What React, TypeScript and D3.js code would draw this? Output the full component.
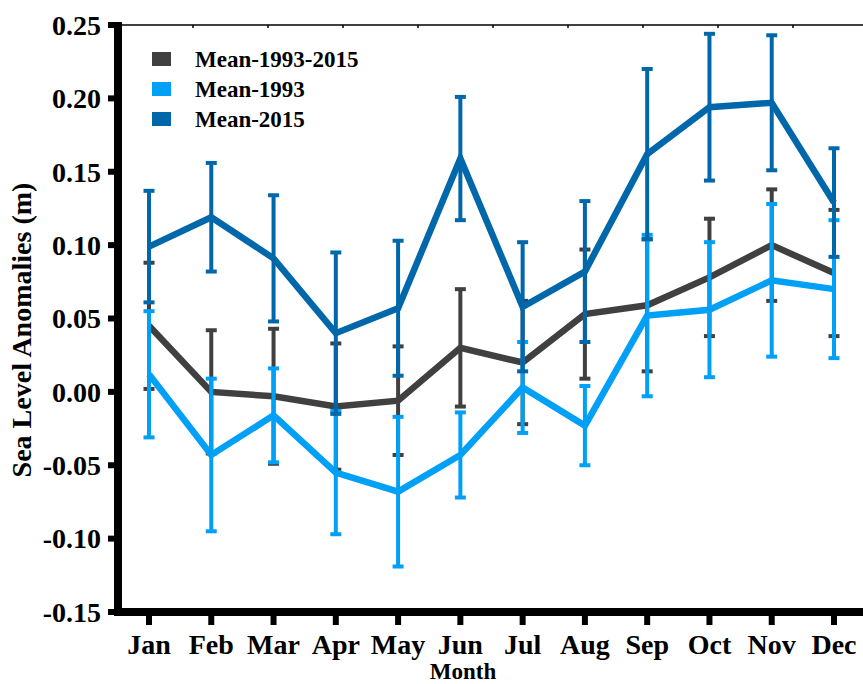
import React from "react";
import * as d3 from "d3";

// Monthly sea level anomalies (m) with error bars
const months = ["Jan", "Feb", "Mar", "Apr", "May", "Jun", "Jul", "Aug", "Sep", "Oct", "Nov", "Dec"];

const meanAll = [0.045, 0.0, -0.003, -0.01, -0.006, 0.03, 0.02, 0.053, 0.059, 0.078, 0.1, 0.081];
const errAll = [0.043, 0.042, 0.046, 0.043, 0.037, 0.04, 0.042, 0.044, 0.045, 0.04, 0.038, 0.043];

const mean1993 = [0.012, -0.043, -0.016, -0.055, -0.068, -0.043, 0.003, -0.023, 0.052, 0.056, 0.076, 0.07];
const err1993 = [0.043, 0.052, 0.032, 0.042, 0.051, 0.029, 0.031, 0.027, 0.055, 0.046, 0.052, 0.047];

const mean2015 = [0.099, 0.119, 0.091, 0.04, 0.057, 0.159, 0.058, 0.082, 0.162, 0.194, 0.197, 0.129];
const err2015 = [0.038, 0.037, 0.043, 0.055, 0.046, 0.042, 0.044, 0.048, 0.058, 0.05, 0.046, 0.037];

const yTicks = [0.25, 0.2, 0.15, 0.1, 0.05, 0.0, -0.05, -0.1, -0.15];

const series = [
  { name: "Mean-1993-2015", color: "#404040", values: meanAll, err: errAll },
  { name: "Mean-1993", color: "#00a0f6", values: mean1993, err: err1993 },
  { name: "Mean-2015", color: "#0068aa", values: mean2015, err: err2015 },
];

const W = 863;
const H = 684;
const FONT = "'Liberation Serif', 'Times New Roman', serif";

// tick labels use a plain hyphen for negatives
const fmt = (v: number) => d3.format(".2f")(v).replace("\u2212", "-");

export default function App() {
  const x = d3.scalePoint<string>().domain(months).range([149, 834]);
  const y = d3.scaleLinear().domain([-0.15, 0.25]).range([612, 25]);
  const top = d3.scaleLinear().domain([0, 10]).range([118, 868]);

  const axisLeft = 118;
  const axisBottom = 612;

  const line = d3
    .line<number>()
    .x((_, i) => x(months[i]) as number)
    .y((v) => y(v));

  const capHalf = 5.5;

  return (
    <svg
      width={W}
      height={H}
      style={{ position: "absolute", left: 0, top: 0, background: "#fff" }}
      fontFamily={FONT}
    >
      {/* top frame line with minor ticks */}
      <line x1={axisLeft} x2={W} y1={y(0.25)} y2={y(0.25)} stroke="#000" strokeWidth={1.5} />
      {d3.range(1, 10).map((t) => (
        <line key={"tt" + t} x1={top(t)} x2={top(t)} y1={y(0.25)} y2={y(0.25) + 3} stroke="#000" strokeWidth={1.5} />
      ))}

      {/* series: line then error bars */}
      {series.map((s) => (
        <g key={s.name}>
          <path d={line(s.values) || ""} fill="none" stroke={s.color} strokeWidth={6.5} strokeLinejoin="miter" />
          {s.values.map((v, i) => {
            const cx = x(months[i]) as number;
            const hi = y(v + s.err[i]);
            const lo = y(v - s.err[i]);
            return (
              <g key={i}>
                <line x1={cx} x2={cx} y1={hi} y2={lo} stroke={s.color} strokeWidth={4} />
                <line x1={cx - capHalf} x2={cx + capHalf} y1={hi} y2={hi} stroke={s.color} strokeWidth={4} />
                <line x1={cx - capHalf} x2={cx + capHalf} y1={lo} y2={lo} stroke={s.color} strokeWidth={4} />
              </g>
            );
          })}
        </g>
      ))}

      {/* left axis */}
      <line x1={axisLeft} x2={axisLeft} y1={y(0.25) - 3} y2={axisBottom + 4} stroke="#000" strokeWidth={8} />
      {yTicks.map((t) => (
        <g key={"yt" + t}>
          <line x1={108} x2={axisLeft} y1={y(t)} y2={y(t)} stroke="#000" strokeWidth={6} />
          <text
            x={101}
            y={y(t)}
            dy="0.35em"
            textAnchor="end"
            fontSize={28}
            fontWeight="bold"
          >
            {fmt(t)}
          </text>
        </g>
      ))}

      {/* bottom axis */}
      <line x1={axisLeft - 4} x2={W} y1={axisBottom} y2={axisBottom} stroke="#000" strokeWidth={8} />
      {months.map((m) => (
        <g key={"xt" + m}>
          <line x1={x(m)} x2={x(m)} y1={axisBottom} y2={625} stroke="#000" strokeWidth={6} />
          <text x={x(m)} y={654} textAnchor="middle" fontSize={28} fontWeight="bold">
            {m}
          </text>
        </g>
      ))}

      {/* axis titles */}
      <text x={463} y={679} textAnchor="middle" fontSize={23} fontWeight="bold">
        Month
      </text>
      <text
        transform="translate(31,330) rotate(-90)"
        textAnchor="middle"
        fontSize={28}
        fontWeight="bold"
      >
        Sea Level Anomalies (m)
      </text>

      {/* legend */}
      {series.map((s, i) => (
        <g key={"lg" + s.name} transform={`translate(152, ${52 + i * 30})`}>
          <rect x={0} y={0} width={19} height={14} fill={s.color} />
          <text x={43} y={15} fontSize={23} fontWeight="bold">
            {s.name}
          </text>
        </g>
      ))}
    </svg>
  );
}
